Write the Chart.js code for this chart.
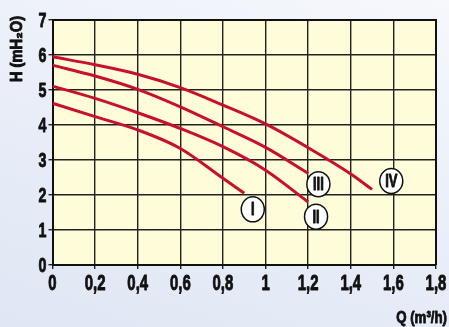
<!DOCTYPE html>
<html>
<head>
<meta charset="utf-8">
<script src="https://cdn.jsdelivr.net/npm/chart.js@4.4.1/dist/chart.umd.min.js"></script>
<style>
  html, body { margin: 0; padding: 0; }
  body { width: 449px; height: 327px; background: linear-gradient(200deg, #f6f8fc 0%, #e9eef8 50%, #dfe7f4 100%); }
  #wrap { position: relative; width: 449px; height: 327px; }
</style>
</head>
<body>
<div id="wrap"><canvas id="myChart"></canvas></div>
<script>
// pump curves, Q in m3/h, H in mH2O
var qI   = [0, 0.2, 0.4, 0.6, 0.8, 0.9];
var hI   = [4.62, 4.24, 3.86, 3.33, 2.48, 2.05];
var qII  = [0, 0.2, 0.4, 0.6, 0.8, 1.0, 1.2];
var hII  = [5.11, 4.76, 4.35, 3.9, 3.38, 2.71, 1.8];
var qIII = [0, 0.2, 0.4, 0.6, 0.8, 1.0, 1.2];
var hIII = [5.71, 5.4, 5.02, 4.52, 3.95, 3.36, 2.62];
var qIV  = [0, 0.2, 0.4, 0.6, 0.8, 1.0, 1.2, 1.4, 1.5];
var hIV  = [5.95, 5.72, 5.45, 5.07, 4.57, 4.03, 3.35, 2.6, 2.16];

var curveNames = ['I', 'II', 'III', 'IV'];
var labelQ = [0.94, 1.237, 1.248, 1.59];
var labelH = [1.59, 1.38, 2.31, 2.4];

var xTicks = [0, 0.2, 0.4, 0.6, 0.8, 1, 1.2, 1.4, 1.6, 1.8];
var yTicks = [0, 1, 2, 3, 4, 5, 6, 7];

var fam = "'Liberation Sans', Arial, sans-serif";
var red = '#c8102e';

function pts(q, h){
  return q.map(function(v, i){ return {x: v, y: h[i]}; });
}

function curve(q, h){
  return {
    data: pts(q, h),
    borderColor: red,
    borderWidth: 3,
    pointRadius: 0,
    fill: false,
    tension: 0.4,
    cubicInterpolationMode: 'monotone'
  };
}

// condensed heavy text, like the narrow bold font of the original
function narrowText(c, txt, x, y, size, sx, align){
  c.save();
  c.translate(x, y);
  c.scale(sx, 1);
  c.font = 'bold ' + size + 'px ' + fam;
  c.textAlign = align;
  c.textBaseline = 'middle';
  c.fillStyle = '#111';
  c.strokeStyle = '#111';
  c.lineWidth = 0.9;
  c.lineJoin = 'round';
  c.fillText(txt, 0, 0);
  c.strokeText(txt, 0, 0);
  c.restore();
}

var plotBg = {
  id: 'plotBg',
  beforeDraw: function(chart){
    var a = chart.chartArea, c = chart.ctx;
    c.save();
    c.fillStyle = '#fffcd9';
    c.fillRect(a.left, a.top, a.right - a.left, a.bottom - a.top);
    c.restore();
  },
  afterDraw: function(chart){
    var a = chart.chartArea, c = chart.ctx;
    var xs = chart.scales.x, ys = chart.scales.y;
    c.save();
    // frame
    c.strokeStyle = '#111';
    c.lineWidth = 2;
    c.beginPath();
    c.moveTo(a.left, a.top);
    c.lineTo(a.right, a.top);
    c.lineTo(a.right, a.bottom);
    c.stroke();

    // tick labels
    xTicks.forEach(function(v){
      narrowText(c, String(v).replace('.', ','), xs.getPixelForValue(v), a.bottom + 19, 22, 0.68, 'center');
    });
    yTicks.forEach(function(v){
      narrowText(c, String(v), a.left - 6, ys.getPixelForValue(v) + 1, 21, 0.68, 'right');
    });

    // curve labels
    for (var i = 0; i < curveNames.length; i++){
      var px = xs.getPixelForValue(labelQ[i]);
      var py = ys.getPixelForValue(labelH[i]);
      c.beginPath();
      c.ellipse(px, py, 11.5, 12.5, 0, 0, Math.PI * 2);
      c.fillStyle = '#fff';
      c.fill();
      c.lineWidth = 1.5;
      c.strokeStyle = '#111';
      c.stroke();
      narrowText(c, curveNames[i], px, py + 1, 18, 0.72, 'center');
    }

    // axis titles
    narrowText(c, 'Q (m³/h)', 447, 318, 17, 0.78, 'right');
    c.save();
    c.translate(18, 49);
    c.rotate(-Math.PI / 2);
    narrowText(c, 'H (mH₂O)', 0, 0, 16, 0.92, 'center');
    c.restore();
    c.restore();
  }
};

var myChart = new Chart(document.getElementById('myChart'), {
  type: 'line',
  data: {
    datasets: [curve(qI, hI), curve(qII, hII), curve(qIII, hIII), curve(qIV, hIV)]
  },
  options: {
    animation: false,
    responsive: true,
    maintainAspectRatio: false,
    layout: { padding: { left: 0, top: 20, right: 13, bottom: 0 } },
    plugins: { legend: { display: false }, tooltip: { enabled: false } },
    scales: {
      x: {
        type: 'linear',
        min: 0,
        max: 1.8,
        afterBuildTicks: function(s){ s.ticks = xTicks.map(function(v){ return {value: v}; }); },
        afterFit: function(s){ s.height = 62; },
        grid: { color: '#222', lineWidth: 1.4, tickLength: 4 },
        border: { color: '#111', width: 2 },
        ticks: { color: 'rgba(0,0,0,0)', font: { size: 12 } }
      },
      y: {
        min: 0,
        max: 7,
        afterFit: function(s){ s.width = 52.5; },
        grid: { color: '#222', lineWidth: 1.4, tickLength: 4 },
        border: { color: '#111', width: 2 },
        ticks: { stepSize: 1, color: 'rgba(0,0,0,0)', font: { size: 12 } }
      }
    }
  },
  plugins: [plotBg]
});
</script>
</body>
</html>
